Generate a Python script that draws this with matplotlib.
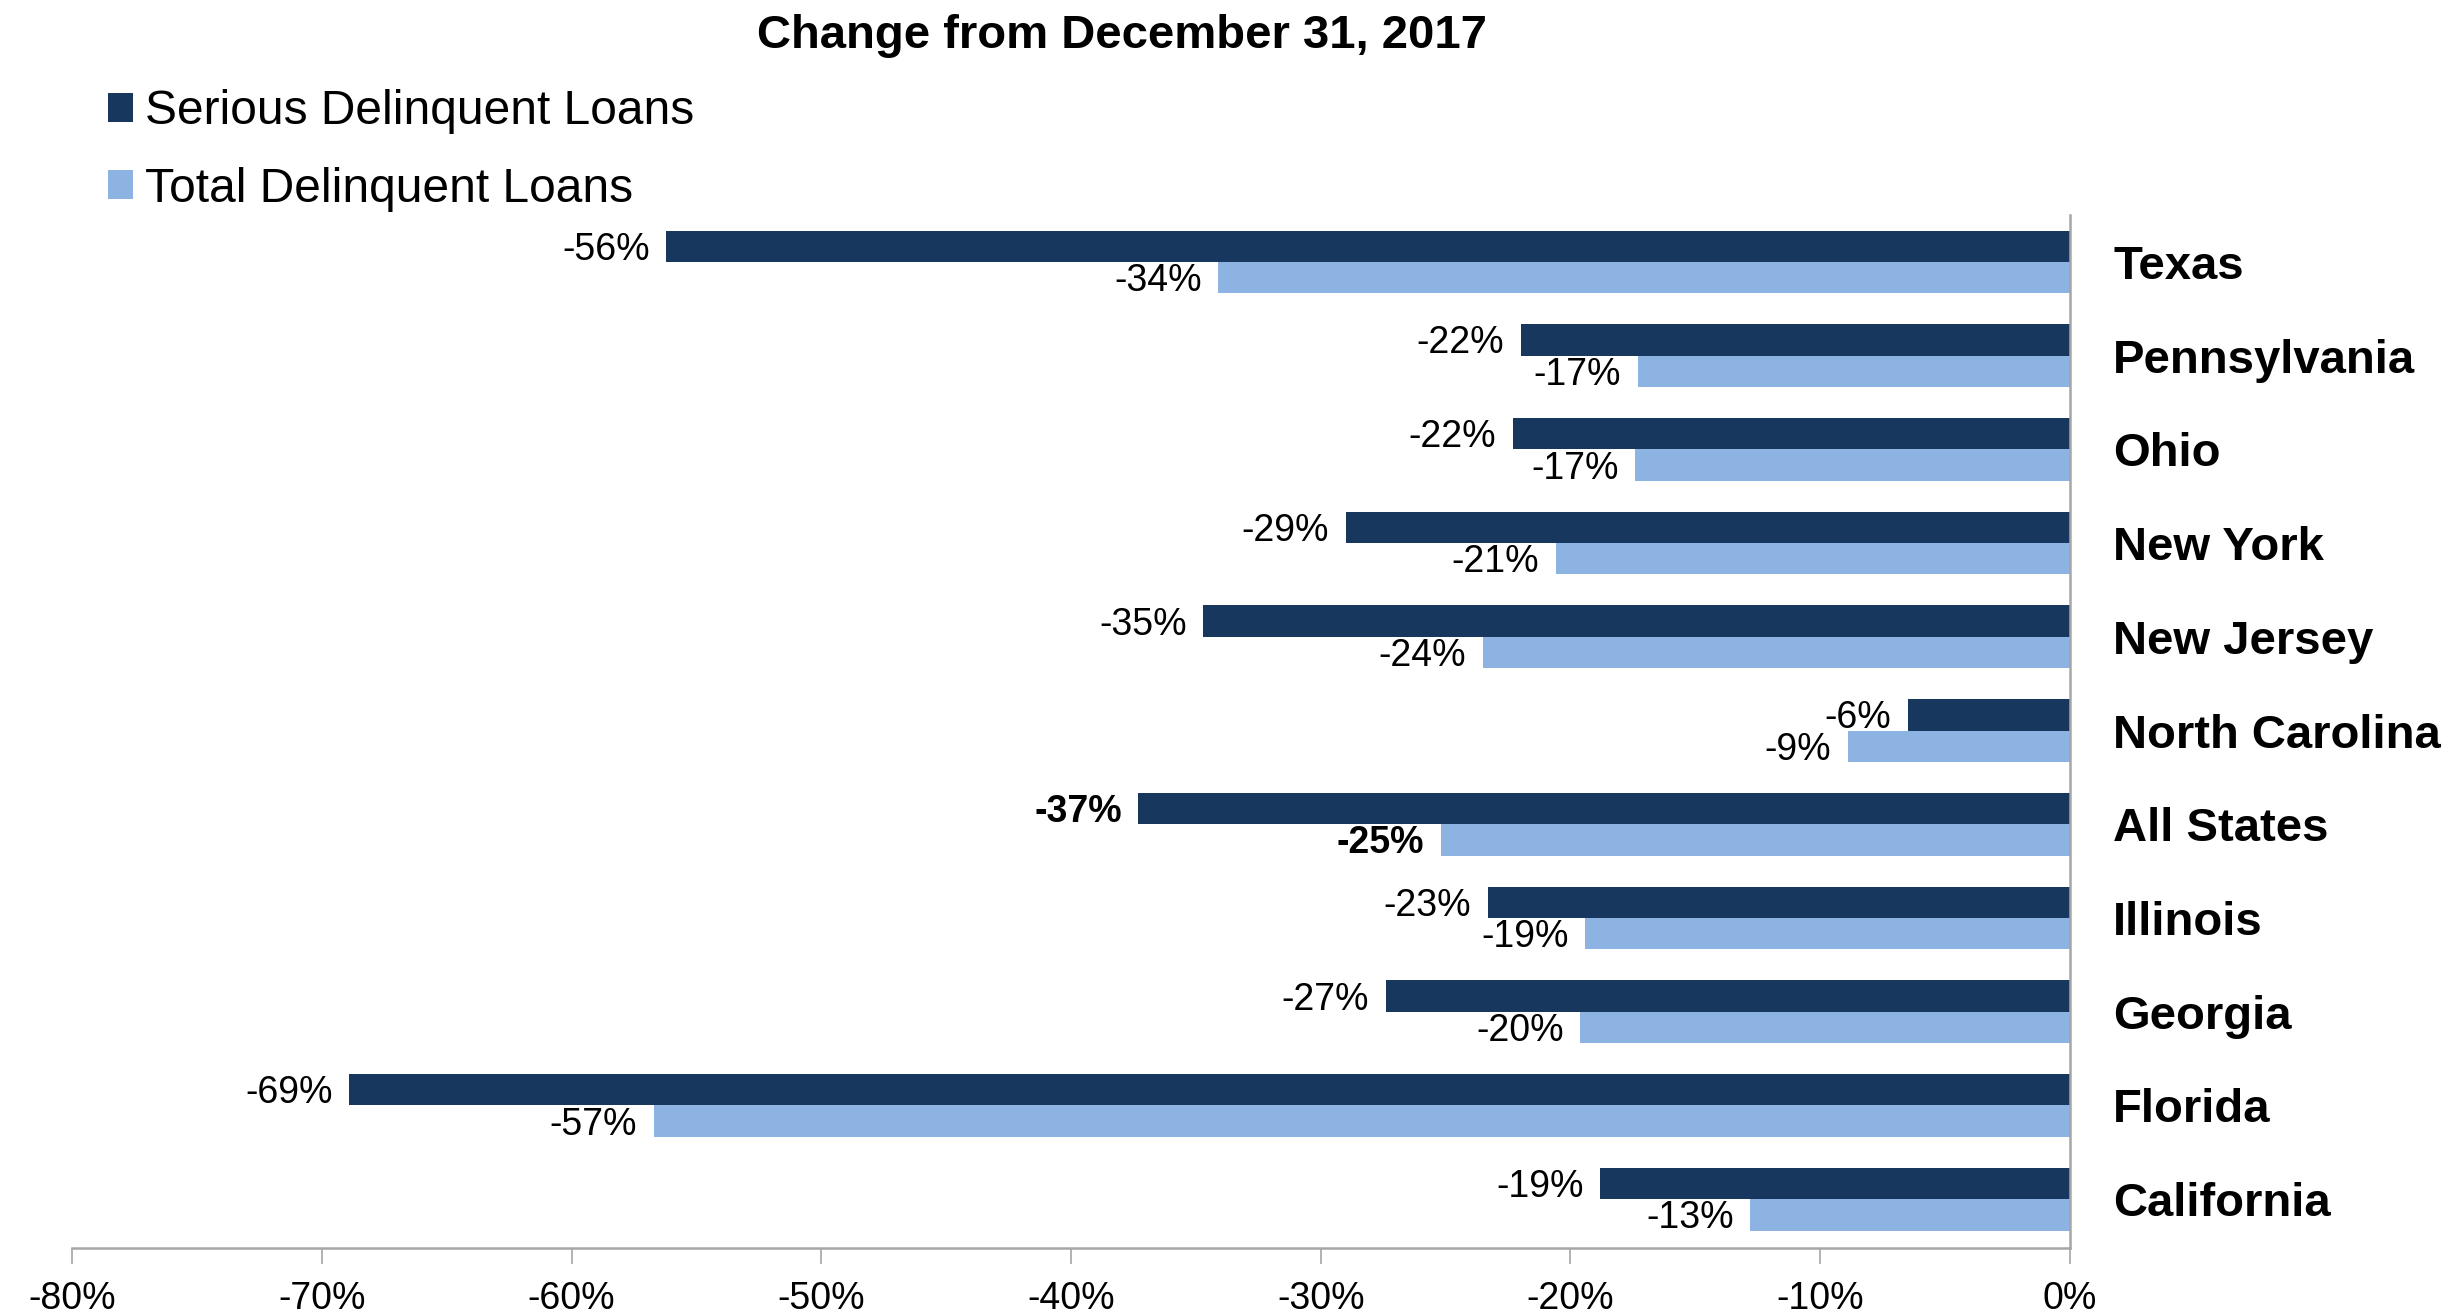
import numpy as np
import matplotlib
matplotlib.use('Agg')
from matplotlib import pyplot as plt

plt.rcParams['font.family'] = ['Liberation Sans', 'DejaVu Sans']

# top to bottom as shown
states = ['Texas', 'Pennsylvania', 'Ohio', 'New York', 'New Jersey',
          'North Carolina', 'All States', 'Illinois', 'Georgia', 'Florida',
          'California']
serious = [-56.2, -22.0, -22.3, -29.0, -34.7, -6.5, -37.3, -23.3, -27.4, -68.9, -18.8]
total = [-34.1, -17.3, -17.4, -20.6, -23.5, -8.9, -25.2, -19.4, -19.6, -56.7, -12.8]
xticks = [-80, -70, -60, -50, -40, -30, -20, -10, 0]

c_serious = '#17375E'
c_total = '#8DB3E2'
axis_gray = '#A6A6A6'

fig = plt.figure(figsize=(24.61, 13.16), dpi=100)
ax = fig.add_axes([0.0293, 0.0517, 0.8118, 0.7849])

n = len(states)
y = np.arange(n)[::-1]
h = 0.335

b1 = ax.barh(y + h / 2, serious, height=h, color=c_serious, label='Serious Delinquent Loans')
b2 = ax.barh(y - h / 2, total, height=h, color=c_total, label='Total Delinquent Loans')

# data labels just left of each bar end
for i in range(n):
    bold = 'bold' if states[i] == 'All States' else 'normal'
    for val, yy in ((serious[i], y[i] + h / 2), (total[i], y[i] - h / 2)):
        ax.annotate(f'{round(val):d}%', xy=(val, yy), xytext=(-12, -2.5),
                    textcoords='offset points', ha='right', va='center',
                    fontsize=27, fontweight=bold)

ax.set_xlim(-80, 0)
ax.set_ylim(-0.52, 10.5)
ax.set_xticks(xticks)
ax.set_xticklabels([f'{t}%' for t in xticks], fontsize=27)

ax.yaxis.tick_right()
ax.set_yticks(y)
ax.set_yticklabels(states, fontsize=34, fontweight='bold', ha='left')
ax.tick_params(axis='y', length=0, pad=31)
ax.tick_params(axis='x', direction='out', length=11.5, width=1.2, color=axis_gray, pad=12)

for s in ['left', 'top']:
    ax.spines[s].set_visible(False)
for s in ['right', 'bottom']:
    ax.spines[s].set_color(axis_gray)
    ax.spines[s].set_linewidth(1.8)

fig.text(0.456, 0.973, 'Change from December 31, 2017', ha='center', va='center',
         fontsize=34, fontweight='bold')

fig.legend(handles=[b1, b2], loc='upper left', bbox_to_anchor=(0.0437, 0.932),
           frameon=False, fontsize=34.5, handlelength=0.53, handleheight=0.53,
           handletextpad=0.25, labelspacing=0.67, borderpad=0, borderaxespad=0)

plt.savefig('out.png', dpi=100)
